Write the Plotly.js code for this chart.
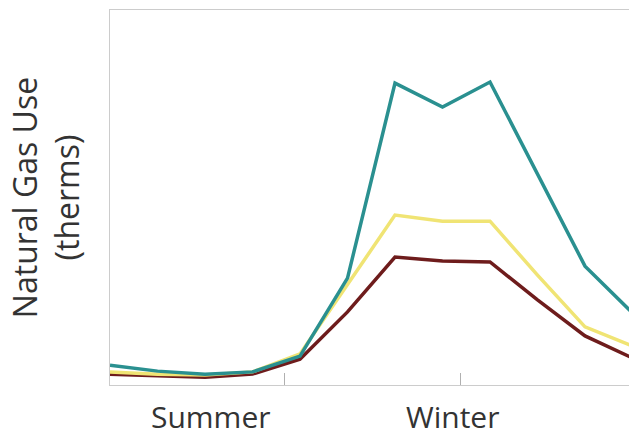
<!DOCTYPE html>
<html>
<head>
<meta charset="utf-8">
<script src="https://cdn.plot.ly/plotly-3.0.1.min.js"></script>
<style>html,body{margin:0;padding:0;background:#fff;}#chart{width:629px;height:440px;}</style>
</head>
<body>
<div id="chart"></div>
<script>
// month index (0 = first month shown)
var months = [0, 1, 2, 3, 4, 5, 6, 7, 8, 9, 10, 11];
// natural gas use, relative units (0-100)
var tealSeries   = [5.3, 3.7, 2.9, 3.5, 7.7, 28.5, 80.5, 74.1, 80.8, 56.0, 31.7, 19.2];
var yellowSeries = [3.5, 2.9, 2.7, 3.5, 8.3, 26.7, 45.3, 43.7, 43.7, 29.3, 15.5, 10.4];
var redSeries    = [2.9, 2.4, 2.1, 2.9, 6.9, 19.5, 34.1, 33.1, 32.8, 22.7, 13.1, 7.2];
var seasonLabels = ['Summer', 'Winter'];
var seasonPos = [2.13, 7.2];
var tickPos = [3.68, 7.37];

var font = 'Open Sans, Noto Sans, DejaVu Sans, sans-serif';

function tr(y, color) {
  return {x: months, y: y, type: 'scatter', mode: 'lines',
          line: {color: color, width: 3.5}, hoverinfo: 'skip', showlegend: false};
}

var data = [tr(redSeries, '#6e1c1c'), tr(yellowSeries, '#f0e474'), tr(tealSeries, '#2a9090')];

var annotations = seasonLabels.map(function (t, i) {
  return {text: t, x: seasonPos[i], xref: 'x', y: -0.1453, yref: 'paper',
          xanchor: 'center', yanchor: 'bottom', showarrow: false,
          font: {family: font, size: 30, color: '#333'}};
});
annotations.push({text: 'Natural Gas Use<br>(therms)', x: -0.124, xref: 'paper',
  y: 0.5, yref: 'paper', xanchor: 'center', yanchor: 'middle', showarrow: false,
  textangle: -90, font: {family: font, size: 32, color: '#333'}});

var layout = {
  width: 629, height: 440,
  margin: {l: 110, r: 0, t: 10, b: 55},
  paper_bgcolor: '#fff', plot_bgcolor: '#fff',
  showlegend: false,
  xaxis: {range: [0, 10.926], showgrid: false, zeroline: false,
          showline: true, linecolor: '#cccccc', linewidth: 1, mirror: true,
          tickmode: 'array', tickvals: tickPos, ticktext: ['', ''],
          ticks: 'inside', ticklen: 12, tickcolor: '#b0b0b0', tickwidth: 1},
  yaxis: {range: [0, 100], showgrid: false, zeroline: false,
          showline: true, linecolor: '#cccccc', linewidth: 1,
          showticklabels: false, ticks: ''},
  annotations: annotations
};

Plotly.newPlot('chart', data, layout, {staticPlot: true, displayModeBar: false});
</script>
</body>
</html>
